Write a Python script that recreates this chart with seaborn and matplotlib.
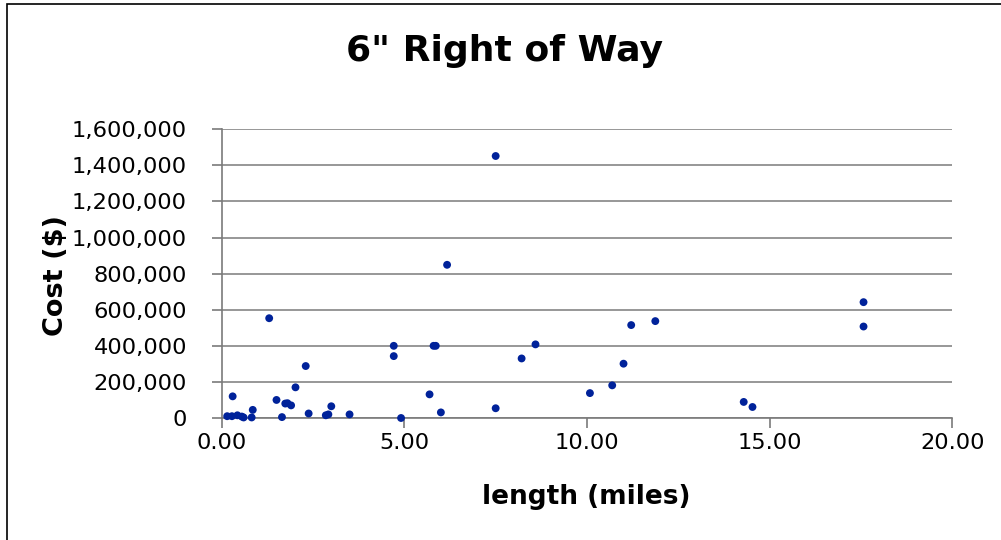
import matplotlib
matplotlib.use("Agg")
import matplotlib.pyplot as plt
import seaborn as sns
import pandas as pd
from matplotlib.ticker import FuncFormatter, MultipleLocator
from matplotlib.patches import Rectangle

length_miles = [0.15, 0.28, 0.30, 0.43, 0.55, 0.60, 0.82, 0.85, 1.30, 1.50,
                1.65, 1.74, 1.80, 1.90, 2.02, 2.30, 2.38, 2.85, 2.92, 3.00,
                3.50, 4.71, 4.71, 4.91, 5.69, 5.80, 5.86, 6.00, 6.17, 7.50,
                7.50, 8.21, 8.59, 10.08, 10.69, 11.00, 11.21, 11.87, 14.29, 14.53,
                17.57, 17.57]
cost_usd = [10000, 10000, 120000, 15000, 8000, 3000, 3000, 45000, 553000, 100000,
            5000, 80000, 82000, 70000, 170000, 288000, 25000, 15000, 20000, 65000,
            20000, 400000, 343000, 0, 131000, 400000, 400000, 31000, 849000, 1452000,
            54000, 330000, 408000, 138000, 181000, 301000, 515000, 537000, 89000, 61000,
            642000, 507000]

title = "6\" Right of Way"
x_label = "length (miles)"
y_label = "Cost ($)"

sns.set_style("white")
plt.rcParams['font.family'] = ['DejaVu Sans']
plt.rcParams['text.color'] = 'black'
plt.rcParams['axes.labelcolor'] = 'black'

df = pd.DataFrame({"length": length_miles, "cost": cost_usd})

fig = plt.figure(figsize=(10.01, 5.40), dpi=100)
ax = fig.add_axes([221.7 / 1001, 1 - 418 / 540, (952.3 - 221.7) / 1001, (418 - 129.3) / 540])

sns.scatterplot(data=df, x="length", y="cost", ax=ax, color="#00229A",
                s=32, edgecolor="none", zorder=3, clip_on=False)

ax.set_xlim(0, 20)
ax.set_ylim(0, 1600000)
ax.xaxis.set_major_locator(MultipleLocator(5))
ax.yaxis.set_major_locator(MultipleLocator(200000))
ax.xaxis.set_major_formatter(FuncFormatter(lambda v, p: f"{v:.2f}"))
ax.yaxis.set_major_formatter(FuncFormatter(lambda v, p: f"{v:,.0f}"))

ax.grid(axis="y", color="#7a7a7a", linewidth=1.1)
ax.grid(axis="x", visible=False)
ax.set_axisbelow(True)
for s in ["top", "right"]:
    ax.spines[s].set_visible(False)
for s in ["left", "bottom"]:
    ax.spines[s].set_color("#7a7a7a")
    ax.spines[s].set_linewidth(1.2)

ax.tick_params(axis="both", which="major", direction="out", length=7, width=1.2,
               color="#7a7a7a", labelsize=16.2, labelcolor="black")
ax.tick_params(axis="y", pad=18)
ax.tick_params(axis="x", pad=4)
ax.tick_params(left=True, bottom=True)

ax.set_xlabel(x_label, fontsize=19, fontweight="bold", va="center")
ax.set_ylabel(y_label, fontsize=19.5, fontweight="bold", va="center")
ax.xaxis.set_label_coords(0.499, (418 - 497) / 288.7)
ax.yaxis.set_label_coords((56 - 221.7) / 730.6, (418 - 275) / 288.7)

fig.text(505 / 1001, 1 - 51 / 540, title, fontsize=26, fontweight="bold",
         ha="center", va="center")

fig.patches.append(Rectangle((7 / 1001, -0.1), 1.2, 1 - 4 / 540 + 0.1,
                             transform=fig.transFigure, fill=False,
                             edgecolor="black", linewidth=1.2))

fig.savefig("out.png", dpi=100)
